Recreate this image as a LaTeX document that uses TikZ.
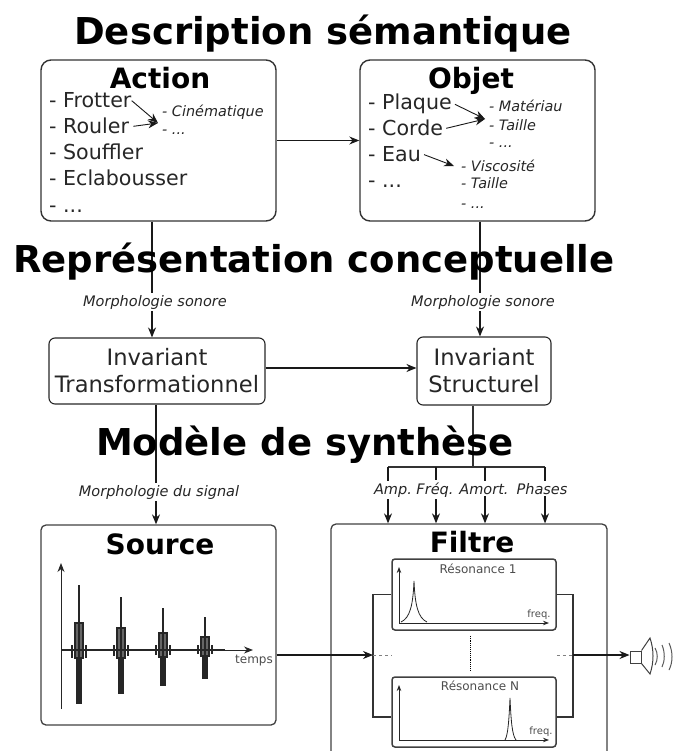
\documentclass[tikz,border=0pt]{standalone}
\usepackage{fontspec}
\setmainfont{DejaVu Sans}
\usetikzlibrary{arrows.meta}

\begin{document}
\begin{tikzpicture}[
  x=1pt,y=-1pt,
  every node/.style={align=center,inner sep=0pt,text=black!85},
  title/.style={anchor=base,text=black,font=\bfseries\fontsize{37}{37}\selectfont},
  boxtitle/.style={anchor=base,text=black,font=\bfseries\fontsize{28}{28}\selectfont},
  bigbox/.style={draw=black!80,line width=1.4pt,rounded corners=10pt},
  invbox/.style={draw=black!85,line width=1.1pt,rounded corners=6pt,font=\fontsize{22.6}{27}\selectfont},
  blockbox/.style={draw=black!75,line width=1.3pt,rounded corners=5pt},
  resbox/.style={draw=black!75,line width=1.5pt,rounded corners=3pt,minimum width=164pt},
  item/.style={anchor=base west,font=\fontsize{20.6}{20.6}\selectfont},
  note/.style={anchor=base west,font=\itshape\fontsize{14.4}{14.4}\selectfont},
  morph/.style={anchor=base,fill=white,inner sep=2pt,font=\itshape\fontsize{14.5}{14.5}\selectfont},
  small/.style={anchor=base,text=black!70,font=\fontsize{12}{12}\selectfont},
  tiny/.style={small,font=\fontsize{10}{10}\selectfont},
  to/.style={-{Stealth[length=10pt,width=8pt]},line width=1.1pt,draw=black!90},
  wire/.style={line width=1.1pt,draw=black!80},
  plot/.style={line width=1pt,draw=black!85},
  axis/.style={plot,-{Stealth[length=9pt,width=7pt]}},
  resaxis/.style={plot,line width=.8pt,-{Stealth[length=6pt,width=4.5pt]}},
  burst/.style={draw=black!85,fill=black!60,line width=1.2pt}]

  \useasboundingbox[clip] (0,0) rectangle (674,751);

  % Position the nodes
  \node[bigbox,minimum width=235pt,minimum height=161pt] (action) at (158.5,140.5) {};
  \node[bigbox,minimum width=235pt,minimum height=161pt] (objet) at (477.5,140.5) {};
  \node[invbox,minimum width=216pt,minimum height=66pt] (inv_trans) at (157,371) {Invariant\\Transformationnel};
  \node[invbox,minimum width=134pt,minimum height=68pt] (inv_struct) at (484,371) {Invariant\\Structurel};
  \node[blockbox,minimum width=235pt,minimum height=200pt] (source) at (158.5,625) {};
  \node[blockbox,minimum width=276pt,minimum height=260pt] (filtre) at (469,654) {};
  \node[resbox,minimum height=71pt] (res_one) at (474,594.5) {};
  \node[resbox,minimum height=70pt] (res_n) at (474,712) {};
  \node[draw=black!75,line width=1pt,minimum width=11pt,minimum height=12pt] (speaker) at (635.5,657) {};

  \coordinate (bus) at (473,467);
  \coordinate (bus_amp) at (388,467);
  \coordinate (bus_freq) at (436,467);
  \coordinate (bus_amort) at (485,467);
  \coordinate (bus_phases) at (545,467);
  \coordinate (left_in) at (373,655);
  \coordinate (right_out) at (573,655);
  \coordinate (action_in) at (158,123);
  \coordinate (mat_in) at (485,119);
  \coordinate (visc_in) at (454,166);

  % Texts of the two upper boxes
  \node[boxtitle] (action_title) at (160,89) {Action};
  \node[item] (frotter) at (49,108) {- Frotter};
  \node[item] (rouler) at (49,134) {- Rouler};
  \node[item] (souffler) at (49,160) {- Souffler};
  \node[item] (eclabousser) at (49,186) {- Eclabousser};
  \node[item] (action_dots) at (49,212) {- ...};
  \node[note] (cinematique) at (162,117) {- Cinématique};
  \node[note] (cin_dots) at (162,135) {- ...};

  \node[boxtitle] (objet_title) at (471,89) {Objet};
  \node[item] (plaque) at (368,110) {- Plaque};
  \node[item] (corde) at (368,136) {- Corde};
  \node[item] (eau) at (368,162) {- Eau};
  \node[item] (objet_dots) at (368,188) {- ...};
  \node[note] (materiau) at (489,112) {- Matériau};
  \node[note] (taille_a) at (489,131) {- Taille};
  \node[note] (mat_dots) at (489,148) {- ...};
  \node[note] (viscosite) at (461,172) {- Viscosité};
  \node[note] (taille_b) at (461,189) {- Taille};
  \node[note] (visc_dots) at (461,208) {- ...};

  % Draw the arrows between the nodes
  \draw[to,line width=.9pt] (frotter.east) -- (action_in);
  \draw[to,line width=.9pt] ([xshift=4pt]rouler.east) -- (action_in);
  \draw[to,line width=.9pt] ([xshift=3pt]plaque.east) -- (mat_in);
  \draw[to,line width=.9pt] ([xshift=3pt]corde.east) -- (mat_in);
  \draw[to,line width=.9pt] ([xshift=3pt]eau.east) -- (visc_in);

  \draw[to] (action) -- (objet);
  \draw[to] ([xshift=-6.5pt]action.south) -- ([xshift=-5pt]inv_trans.north);
  \draw[to] ([xshift=2.5pt]objet.south) -- ([xshift=-4pt]inv_struct.north);
  \draw[to] (inv_trans.east |- 0,368) -- (inv_struct.west |- 0,368);
  \draw[to] ([xshift=-1pt]inv_trans.south) -- ([xshift=-2.5pt]source.north);

  \draw[wire] ([xshift=-11pt]inv_struct.south) -- (bus);
  \draw[wire] (bus_amp) -- (bus_phases);
  \draw[to] (bus_amp) -- (bus_amp |- filtre.north);
  \draw[to] (bus_freq) -- (bus_freq |- filtre.north);
  \draw[to] (bus_amort) -- (bus_amort |- filtre.north);
  \draw[to] (bus_phases) -- (bus_phases |- filtre.north);

  \node[morph] (morph_action) at (155,306) {Morphologie sonore};
  \node[morph] (morph_objet) at (483,306) {Morphologie sonore};
  \node[morph] (morph_signal) at (159,496) {Morphologie du signal};
  \node[morph] (lab_amp) at (393,494) {Amp.};
  \node[morph] (lab_freq) at (435,494) {Fréq.};
  \node[morph] (lab_amort) at (484,494) {Amort.};
  \node[morph] (lab_phases) at (542,494) {Phases};

  % The resonances inside the filter
  \node[boxtitle] (source_title) at (160,554) {Source};
  \node[boxtitle] (filtre_title) at (472,552) {Filtre};
  \node[small] (res_one_title) at (478,573) {Résonance 1};
  \node[small] (res_n_title) at (480,690) {Résonance N};
  \node[tiny] (freq_one) at (539,617) {freq.};
  \node[tiny] (freq_n) at (541,734) {freq.};
  \node[small] (temps) at (254,663) {temps};

  \draw[wire] (res_one.west) -| (left_in) |- ([yshift=-5pt]res_n.west);
  \draw[wire] (res_one.east) -| (right_out) |- ([yshift=-5pt]res_n.east);
  \draw[to] (source.east |- left_in) -- (left_in);
  \draw[to] (right_out) -- (right_out -| speaker.west);
  \draw[black!50,line width=.9pt,dashed] (left_in) -- (left_in -| res_one.west);
  \draw[black!50,line width=.9pt,dashed] (res_one.east |- right_out) -- (right_out);
  \draw[densely dotted,line width=.9pt] ([yshift=-5pt]res_one.south -| 470,0) -- ([yshift=5pt]res_n.north -| 470,0);

  % Signal plot of the source
  \draw[axis] (61,709) -- (61,563);
  \draw[axis] (61,650) -- (253,650);
  \draw[burst] (75,623) rectangle (83,658) (77,658) rectangle (81,703);
  \draw[burst] (117,628) rectangle (125,658) (119,658) rectangle (123,693);
  \draw[burst] (159,633) rectangle (167,657) (161,657) rectangle (165,685);
  \draw[burst] (201,637) rectangle (209,656) (203,656) rectangle (207,678);
  \draw[plot,line width=1.4pt] (79,585) -- (79,703) (121,597) -- (121,693) (163,608) -- (163,685) (205,617) -- (205,678);
  \draw[plot,line width=1.4pt] (72,645) -- (72,658) (86,645) -- (86,658) (114,645) -- (114,656) (128,645) -- (128,656) (156,645) -- (156,655) (170,645) -- (170,655) (198,645) -- (198,654) (212,645) -- (212,654);
  \draw[line width=1.8pt,black!85] (61,650) -- (225,650);

  % Spectra of the two resonances
  \draw[resaxis] (399,623) -- (399,567);
  \draw[resaxis] (399,623) -- (549,623);
  \draw[plot,line width=.8pt] (401,622) .. controls (410,618) and (413,605) .. (414,581) .. controls (415,605) and (418,618) .. (427,622);
  \draw[resaxis] (399,740) -- (399,685);
  \draw[resaxis] (399,740) -- (549,740);
  \draw[plot,line width=.8pt] (505,740) .. controls (508,735) and (509,720) .. (510,698) .. controls (511,720) and (512,735) .. (516,740);

  % Speaker
  \draw[black!75,line width=1pt] (speaker.north east) -- (650,638) .. controls (654,650) and (654,662) .. (650,674) -- (speaker.south east);
  \draw[black!65,line width=1pt] (655,648) .. controls (658,653) and (658,660) .. (655,665);
  \draw[black!65,line width=1pt] (662,645) .. controls (665,652) and (665,661) .. (662,667);
  \draw[black!65,line width=1pt] (669,643) .. controls (673,652) and (673,662) .. (669,670);

  % The three titles come last, they lie over the lines
  \node[title] (title_desc) at (323,45) {Description sémantique};
  \node[title] (title_repr) at (314,272) {Représentation conceptuelle};
  \node[title] (title_modele) at (305,455) {Modèle de synthèse};
\end{tikzpicture}
\end{document}
